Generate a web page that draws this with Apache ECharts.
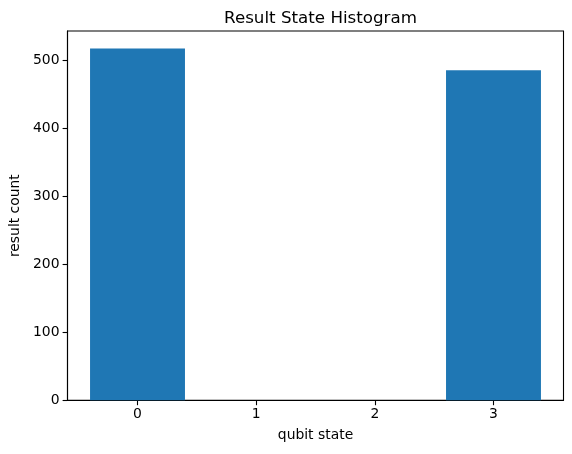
<!DOCTYPE html>
<html>
<head>
<meta charset="utf-8">
<script src="https://cdn.jsdelivr.net/npm/echarts@6/dist/echarts.min.js"></script>
<style>
html,body{margin:0;padding:0;background:#fff;}
#chart{width:572px;height:454px;}
</style>
</head>
<body>
<div id="chart"></div>
<script>
const categories = [0, 1, 2, 3];
const counts = [517, 0, 0, 485];
const yTicks = [0, 100, 200, 300, 400, 500];
const barWidthData = 0.8;

const chart = echarts.init(document.getElementById('chart'), null, {renderer: 'canvas'});
const font = 'DejaVu Sans';
const option = {
  animation: false,
  backgroundColor: '#fff',
  title: {
    text: 'Result State Histogram',
    left: 315.5,
    textAlign: 'center',
    top: 5,
    textStyle: {fontFamily: font, fontSize: 16.7, fontWeight: 'normal', color: '#000'}
  },
  grid: {
    left: 67.5, right: 8.5, top: 31, bottom: 53.7,
    show: true, borderColor: '#000', borderWidth: 1.1, backgroundColor: 'transparent',
    containLabel: false
  },
  xAxis: {
    type: 'value',
    min: -0.59,
    max: 3.59,
    name: 'qubit state',
    nameLocation: 'middle',
    nameGap: 28,
    nameTextStyle: {fontFamily: font, fontSize: 13.9, color: '#000'},
    axisLine: {show: true, onZero: false, lineStyle: {color: '#000', width: 1.1}},
    axisTick: {show: true, inside: false, length: 4.9, customValues: categories, lineStyle: {color: '#000', width: 1.1}},
    axisLabel: {show: true, customValues: categories, margin: 7, fontFamily: font, fontSize: 13.9, color: '#000'},
    splitLine: {show: false}
  },
  yAxis: {
    type: 'value',
    min: 0,
    max: Math.max(...counts) * 1.05,
    name: 'result count',
    nameLocation: 'middle',
    nameGap: 43,
    nameRotate: 90,
    nameTextStyle: {fontFamily: font, fontSize: 13.9, color: '#000'},
    axisLine: {show: true, onZero: false, lineStyle: {color: '#000', width: 1.1}},
    axisTick: {show: true, inside: false, length: 4.9, customValues: yTicks, lineStyle: {color: '#000', width: 1.1}},
    axisLabel: {show: true, customValues: yTicks, margin: 8, fontFamily: font, fontSize: 13.9, color: '#000'},
    splitLine: {show: false}
  },
  series: [{
    type: 'custom',
    data: categories.map((c, i) => [c, counts[i]]),
    renderItem: function (params, api) {
      const x = api.value(0), y = api.value(1);
      const p0 = api.coord([x - barWidthData / 2, y]);
      const p1 = api.coord([x + barWidthData / 2, 0]);
      return {
        type: 'rect',
        shape: {x: p0[0], y: p0[1], width: p1[0] - p0[0], height: p1[1] - p0[1]},
        style: {fill: '#1f77b4'}
      };
    }
  }]
};
chart.setOption(option);
</script>
</body>
</html>
